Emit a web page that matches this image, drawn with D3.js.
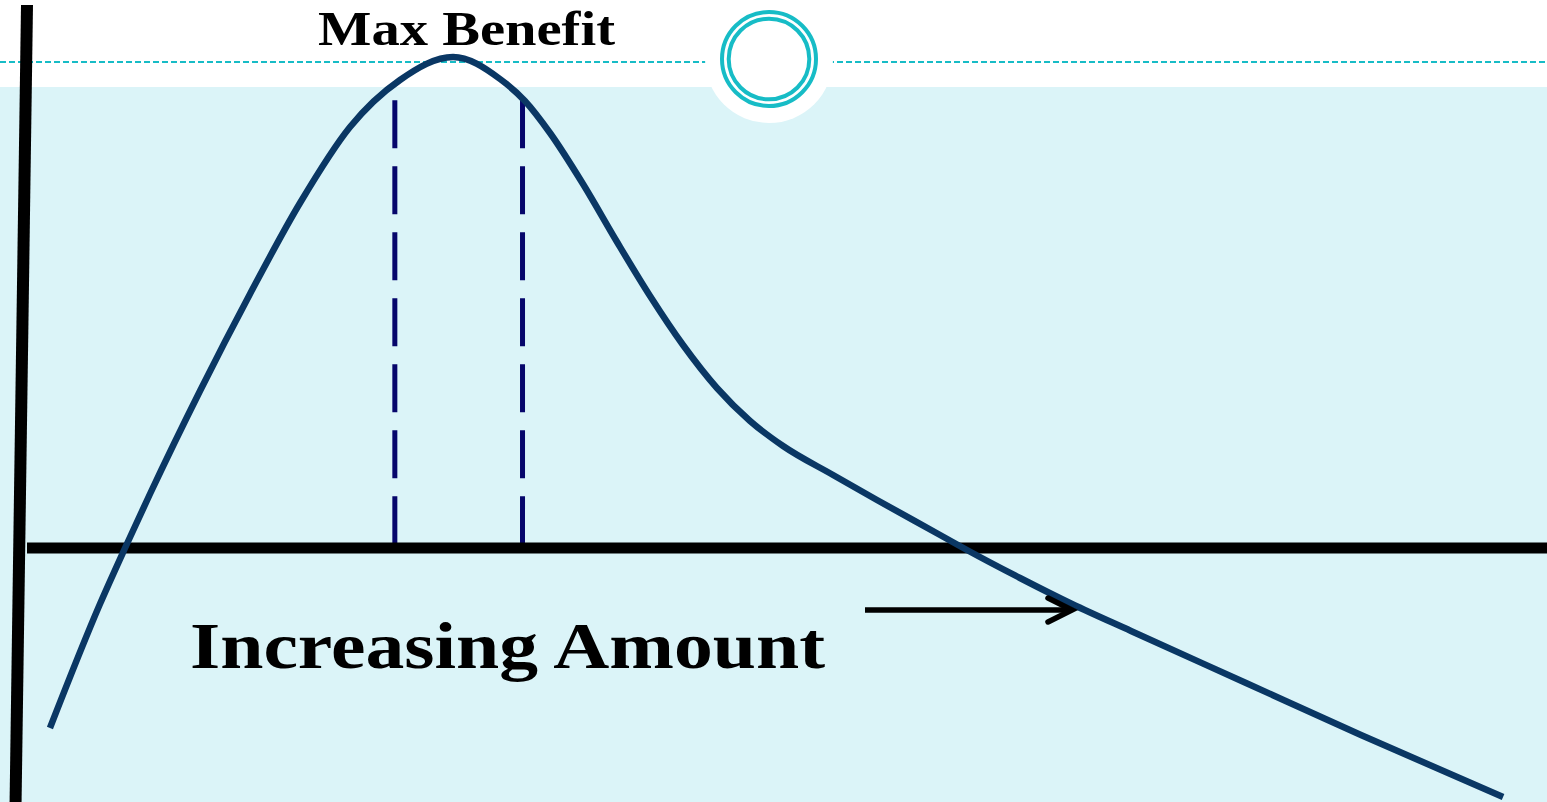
<!DOCTYPE html>
<html>
<head>
<meta charset="utf-8">
<script src="https://cdn.jsdelivr.net/npm/d3@7"></script>
<style>
  html, body { margin: 0; padding: 0; background: #fff; overflow: hidden; }
  svg { display: block; }
</style>
</head>
<body>
<div class="container"></div>
<script>
// Curve data (amount vs benefit)
const amount = [1.51, 4.8, 6.45, 8.09, 11.38, 14.67, 17.96, 21.25, 24.54, 28.03, 31.12, 32.76, 34.41, 36.58, 38.82, 40.99, 43.16, 45.39, 47.57, 49.74, 53.03, 55.92, 60.07, 61.84, 65.33, 68.75, 72.63, 80.2, 87.76, 97.11];
const benefit = [-36.66, -11.41, 0, 11.0, 31.98, 51.73, 70.26, 85.74, 95.32, 100, 95.52, 91.04, 84.52, 74.13, 62.32, 51.32, 41.34, 32.59, 25.87, 20.77, 14.87, 9.78, 2.65, -0.41, -6.11, -11.41, -16.9, -27.49, -38.09, -50.71];

// Dashed markers around the peak
const markerAmount = [24.2, 32.6];
const markerTop = 91.2;

const titleText = 'Max Benefit';
const axisText = 'Increasing Amount';

const drawChart = () => {
  const width = 1547;
  const height = 802;

  const x = d3.scaleLinear().domain([0, 100]).range([27, 1547]);
  const y = d3.scaleLinear().domain([0, 100]).range([548, 57]);

  const svg = d3
    .select('.container')
    .append('svg')
    .attr('width', width)
    .attr('height', height);

  // Background bands
  svg.append('rect').attr('width', width).attr('height', height).attr('fill', '#fff');
  svg
    .append('rect')
    .attr('y', 87)
    .attr('width', width)
    .attr('height', height - 87)
    .attr('fill', '#dbf4f8');

  // Dashed header rule + circle badge
  svg
    .append('line')
    .attr('x1', 0)
    .attr('x2', width)
    .attr('y1', 62)
    .attr('y2', 62)
    .attr('stroke', '#17bcc6')
    .attr('stroke-width', 2)
    .attr('stroke-dasharray', '6 3');

  svg.append('circle').attr('cx', 769).attr('cy', 59).attr('r', 64).attr('fill', '#fff');
  [47, 40.3].forEach((r) =>
    svg
      .append('circle')
      .attr('cx', 769)
      .attr('cy', 59)
      .attr('r', r)
      .attr('fill', 'none')
      .attr('stroke', '#17bcc6')
      .attr('stroke-width', 4)
  );

  // Dashed vertical markers
  svg
    .selectAll('.marker')
    .data(markerAmount)
    .enter()
    .append('line')
    .attr('class', 'marker')
    .attr('x1', (d) => x(d))
    .attr('x2', (d) => x(d))
    .attr('y1', y(markerTop))
    .attr('y2', y(0))
    .attr('stroke', '#06066b')
    .attr('stroke-width', 5)
    .attr('stroke-dasharray', '48 18');

  // Axes
  svg
    .append('line')
    .attr('x1', 27)
    .attr('x2', width)
    .attr('y1', y(0))
    .attr('y2', y(0))
    .attr('stroke', '#000')
    .attr('stroke-width', 11);

  svg
    .append('line')
    .attr('x1', 27)
    .attr('y1', 5)
    .attr('x2', 15.5)
    .attr('y2', height + 5)
    .attr('stroke', '#000')
    .attr('stroke-width', 12);

  // Benefit curve
  const points = amount.map((a, i) => [a, benefit[i]]);
  const line = d3
    .line()
    .x((d) => x(d[0]))
    .y((d) => y(d[1]))
    .curve(d3.curveMonotoneX);

  svg
    .append('path')
    .datum(points)
    .attr('d', line)
    .attr('fill', 'none')
    .attr('stroke', '#0a3764')
    .attr('stroke-width', 6.5);

  // Arrow
  svg
    .append('line')
    .attr('x1', 865)
    .attr('x2', 1070)
    .attr('y1', 610)
    .attr('y2', 610)
    .attr('stroke', '#000')
    .attr('stroke-width', 5.5);
  svg
    .append('path')
    .attr('d', 'M1048,598 L1072,610 L1048,622')
    .attr('fill', 'none')
    .attr('stroke', '#000')
    .attr('stroke-width', 5.5)
    .attr('stroke-linecap', 'round')
    .attr('stroke-linejoin', 'miter');

  // Labels
  svg
    .append('text')
    .attr('x', 318)
    .attr('y', 45)
    .attr('textLength', 297)
    .attr('lengthAdjust', 'spacingAndGlyphs')
    .style('font-family', '"Liberation Serif", "DejaVu Serif", serif')
    .style('font-weight', 'bold')
    .style('font-size', '48px')
    .text(titleText);

  svg
    .append('text')
    .attr('x', 190)
    .attr('y', 668)
    .attr('textLength', 635)
    .attr('lengthAdjust', 'spacingAndGlyphs')
    .style('font-family', '"Liberation Serif", "DejaVu Serif", serif')
    .style('font-weight', 'bold')
    .style('font-size', '65px')
    .text(axisText);
};

drawChart();
</script>
</body>
</html>
